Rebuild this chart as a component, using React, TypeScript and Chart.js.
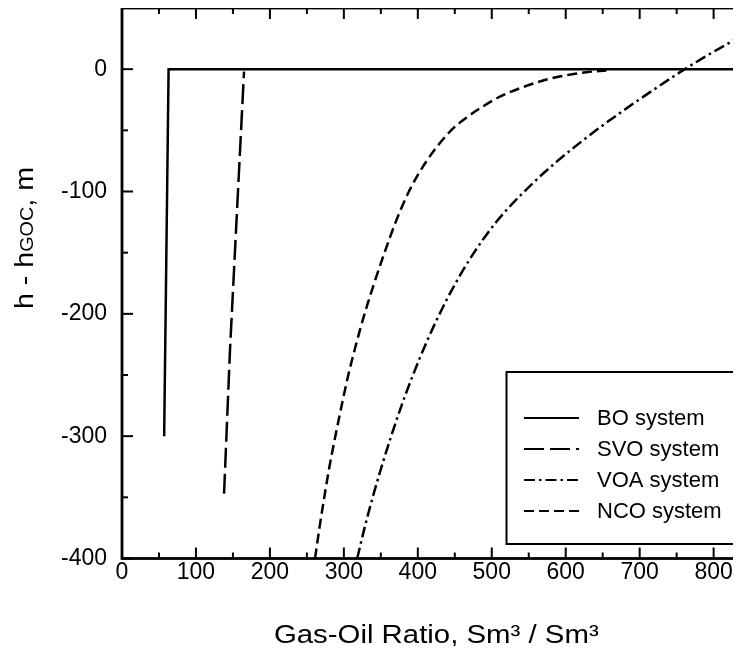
import React, { useEffect, useRef } from "react";
import { Chart, registerables } from "chart.js";

Chart.register(...registerables);

// ---------- data ----------
const seriesLabels = ["BO system", "SVO system", "VOA system", "NCO system"];

const boGor = [57, 63, 850];
const boH = [-300, 0, 0];

const svoGor = [138, 146, 165];
const svoH = [-347, -230, -2];

const voaGor = [318, 328, 339, 351, 364, 378, 393.5, 410.5, 429.5, 451, 476, 506, 544, 589, 641, 699, 761, 788, 837];
const voaH = [-400, -375, -350, -325, -300, -275, -250, -225, -200, -175, -150, -125, -100, -75, -50, -25, 0, 10, 27];

const ncoGor = [261, 267, 273.5, 280.5, 288.5, 297, 306, 316.5, 328, 341, 355, 370, 388, 412, 445, 466, 488, 511, 543, 574, 601, 628, 655];
const ncoH = [-400, -375, -350, -325, -300, -275, -250, -225, -200, -175, -150, -125, -100, -75, -50, -39.5, -30.5, -22.5, -14.5, -8.5, -5, -2.5, -1];

const xMajorTicks = [0, 100, 200, 300, 400, 500, 600, 700, 800];
const xMinorTicks = [50, 150, 250, 350, 450, 550, 650, 750];
const yMajorTicks = [-400, -300, -200, -100, 0];
const yMinorTicks = [-350, -250, -150, -50];

const xTitle = "Gas-Oil Ratio, Sm\u00B3 / Sm\u00B3";
const yTitleParts = ["h - h", "GOC", ", m"];

const X_MIN = 0;
const X_MAX = 850;
const Y_MIN = -400;
const Y_MAX = 50;

// ---------- styling ----------
const FONT = '"Liberation Sans", Arial, Helvetica, sans-serif';

const toPoints = (xs: number[], ys: number[]) => xs.map((x, i) => ({ x, y: ys[i] }));

const frameAndTicks = {
  id: "frameAndTicks",
  afterDatasetsDraw(chart: any) {
    const { ctx, chartArea: a, scales } = chart;
    const xs = scales.x;
    const ys = scales.y;
    ctx.save();
    ctx.strokeStyle = "#000";
    ctx.lineWidth = 2.8;
    ctx.strokeRect(a.left, a.top, a.right - a.left, a.bottom - a.top);
    ctx.lineWidth = 2;
    const seg = (x1: number, y1: number, x2: number, y2: number) => {
      ctx.beginPath();
      ctx.moveTo(x1, y1);
      ctx.lineTo(x2, y2);
      ctx.stroke();
    };
    const MAJ = 11;
    const MIN = 6;
    xMajorTicks.forEach((v) => {
      const p = xs.getPixelForValue(v);
      seg(p, a.bottom, p, a.bottom - MAJ);
      seg(p, a.top, p, a.top + MAJ);
    });
    xMinorTicks.forEach((v) => {
      const p = xs.getPixelForValue(v);
      seg(p, a.bottom, p, a.bottom - MIN);
      seg(p, a.top, p, a.top + MIN);
    });
    yMajorTicks.forEach((v) => {
      const p = ys.getPixelForValue(v);
      seg(a.left, p, a.left + MAJ, p);
      seg(a.right, p, a.right - MAJ, p);
    });
    yMinorTicks.forEach((v) => {
      const p = ys.getPixelForValue(v);
      seg(a.left, p, a.left + MIN, p);
      seg(a.right, p, a.right - MIN, p);
    });
    ctx.restore();
  },
};

const axisTitles = {
  id: "axisTitles",
  afterDraw(chart: any) {
    const { ctx, chartArea: a } = chart;
    // x title
    ctx.save();
    ctx.fillStyle = "#000";
    ctx.font = `26px ${FONT}`;
    ctx.textAlign = "center";
    ctx.textBaseline = "alphabetic";
    ctx.translate((a.left + a.right) / 2, 643);
    ctx.scale(1.13, 1);
    ctx.fillText(xTitle, 0, 0);
    ctx.restore();

    // y title (rotated, GOC in smaller capitals)
    ctx.save();
    ctx.fillStyle = "#000";
    ctx.translate(33, 238);
    ctx.rotate(-Math.PI / 2);
    ctx.scale(1.1, 1);
    const sizes = [26, 18, 26];
    let total = 0;
    const widths = yTitleParts.map((t, i) => {
      ctx.font = `${sizes[i]}px ${FONT}`;
      const w = ctx.measureText(t).width;
      total += w;
      return w;
    });
    ctx.textAlign = "left";
    ctx.textBaseline = "alphabetic";
    let x = -total / 2;
    yTitleParts.forEach((t, i) => {
      ctx.font = `${sizes[i]}px ${FONT}`;
      ctx.fillText(t, x, 0);
      x += widths[i];
    });
    ctx.restore();
  },
};

const legendBox = {
  id: "legendBox",
  afterDraw(chart: any) {
    const { ctx } = chart;
    const L = 506.5;
    const T = 372;
    const R = 740;
    const B = 544;
    ctx.save();
    ctx.fillStyle = "#fff";
    ctx.fillRect(L, T, R - L, B - T);
    ctx.strokeStyle = "#000";
    ctx.lineWidth = 2;
    ctx.strokeRect(L, T, R - L, B - T);
    chart.data.datasets.forEach((ds: any, i: number) => {
      const y = 418 + i * 31;
      ctx.setLineDash(ds.borderDash || []);
      ctx.lineWidth = 2.2;
      ctx.strokeStyle = "#000";
      ctx.beginPath();
      ctx.moveTo(524, y);
      ctx.lineTo(579, y);
      ctx.stroke();
      ctx.setLineDash([]);
      ctx.fillStyle = "#000";
      ctx.font = `22px ${FONT}`;
      ctx.textAlign = "left";
      ctx.textBaseline = "middle";
      ctx.fillText(ds.label, 597, y + 1);
    });
    ctx.restore();
  },
};

export default function App() {
  const ref = useRef<HTMLCanvasElement>(null);

  useEffect(() => {
    if (!ref.current) return;
    const common = {
      pointRadius: 0,
      borderColor: "#000",
      borderWidth: 2.5,
      fill: false,
    };
    const chart = new Chart(ref.current, {
      type: "line",
      data: {
        datasets: [
          { ...common, label: seriesLabels[0], data: toPoints(boGor, boH), borderDash: [], tension: 0 },
          { ...common, label: seriesLabels[1], data: toPoints(svoGor, svoH), borderDash: [20, 6], tension: 0 },
          { ...common, label: seriesLabels[2], data: toPoints(voaGor, voaH), borderDash: [11, 4, 2.5, 4], cubicInterpolationMode: "monotone" },
          { ...common, label: seriesLabels[3], data: toPoints(ncoGor, ncoH), borderDash: [10, 5], cubicInterpolationMode: "monotone" },
        ] as any,
      },
      options: {
        animation: false,
        responsive: false,
        devicePixelRatio: 1,
        layout: { padding: { top: 8, right: 9.4, left: 0, bottom: 0 } },
        plugins: { legend: { display: false }, tooltip: { enabled: false }, title: { display: false } },
        scales: {
          x: {
            type: "linear",
            min: X_MIN,
            max: X_MAX,
            afterBuildTicks: (s: any) => {
              s.ticks = xMajorTicks.map((v) => ({ value: v }));
            },
            afterFit: (s: any) => {
              s.height = 95.5;
              s.paddingLeft = 0;
              s.paddingRight = 0;
            },
            grid: { display: false, drawTicks: false },
            border: { display: false },
            ticks: {
              color: "#000",
              font: { family: FONT, size: 23 },
              padding: 0,
              maxRotation: 0,
              autoSkip: false,
              callback: (v: any) => String(v),
            },
          },
          y: {
            type: "linear",
            min: Y_MIN,
            max: Y_MAX,
            afterBuildTicks: (s: any) => {
              s.ticks = yMajorTicks.map((v) => ({ value: v }));
            },
            afterFit: (s: any) => {
              s.width = 122;
              s.paddingTop = 0;
              s.paddingBottom = 0;
            },
            grid: { display: false, drawTicks: false },
            border: { display: false },
            ticks: {
              color: "#000",
              font: { family: FONT, size: 23 },
              padding: 15,
              autoSkip: false,
              callback: (v: any) => String(v),
            },
          },
        },
      } as any,
      plugins: [frameAndTicks, axisTitles, legendBox],
    });
    return () => chart.destroy();
  }, []);

  return (
    <div style={{ margin: -8, width: 741, height: 654, overflow: "hidden", position: "relative", background: "#fff" }}>
      <canvas ref={ref} width={760} height={654} style={{ display: "block", width: 760, height: 654 }} />
    </div>
  );
}
